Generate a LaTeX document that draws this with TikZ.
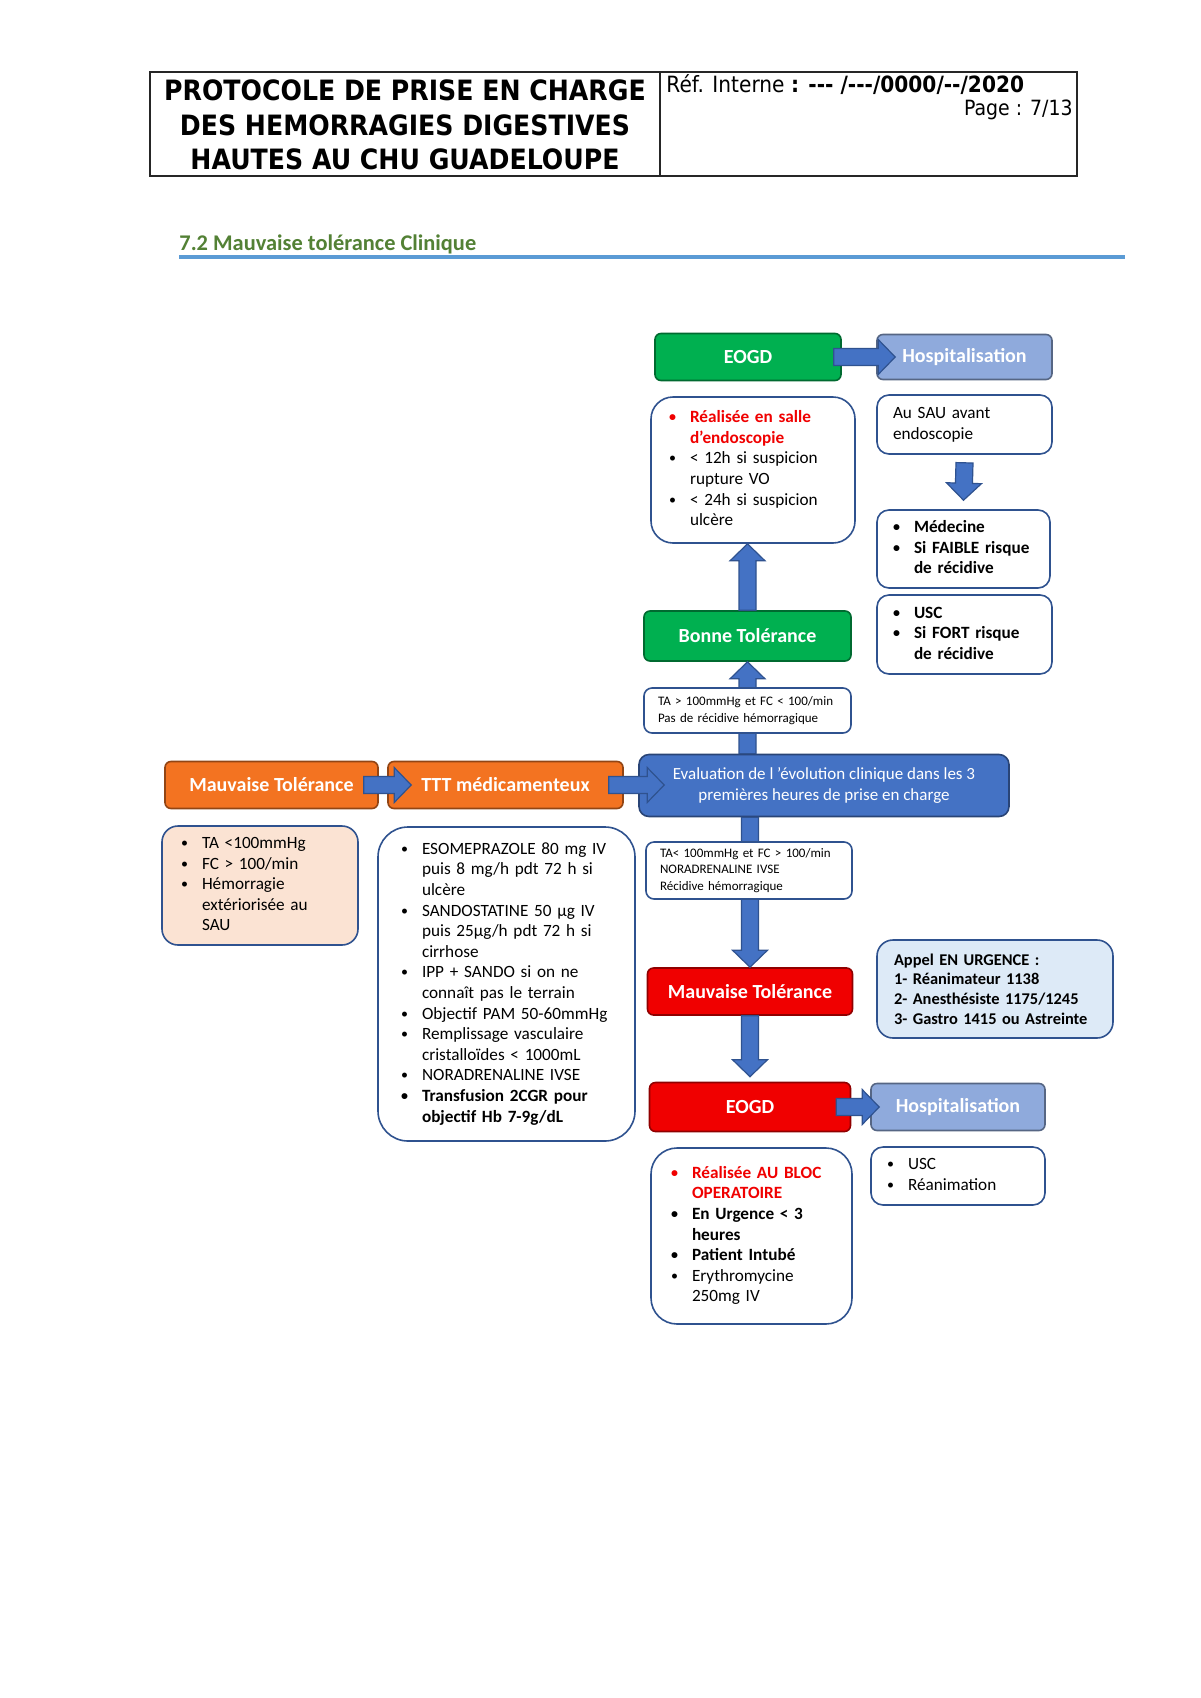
\documentclass[tikz,border=0pt]{standalone}
\usepackage{fontspec}
\setmainfont{Carlito}
\newfontfamily\entete{DejaVu Sans}[FakeStretch=0.9,Ligatures=TeXOff]
\usetikzlibrary{calc}
\definecolor{vert}{HTML}{00B050}
\definecolor{vertfonce}{HTML}{538135}
\definecolor{orangevif}{HTML}{F37321}
\definecolor{rougevif}{HTML}{F00000}
\definecolor{bleu}{HTML}{4472C4}
\definecolor{bordbleu}{HTML}{2F528F}
\definecolor{hospi}{HTML}{8FAADC}
\definecolor{peche}{HTML}{FBE3D3}
\definecolor{bleuclair}{HTML}{DDEAF7}
\definecolor{filet}{HTML}{5B9BD5}
\newcommand{\puce}{\raisebox{0.5pt}{\fontsize{7}{7}\selectfont •}}
\newcommand{\enrouge}[1]{\textcolor{rougevif}{\textbf{#1}}}
\tikzset{
  etiquette/.style={draw=#1!60!black, fill=#1, line width=0.8pt, rounded corners=3pt,
    text=white, font=\bfseries\fontsize{10}{12}\selectfont, inner sep=0pt},
  cadre/.style={draw=bordbleu, fill=white, line width=0.8pt, rounded corners=#1,
    align=left, inner ysep=0pt},
  liste/.style={font=\fontsize{8.6}{10.3}\selectfont},
  petit/.style={font=\fontsize{6.5}{8.1}\selectfont},
  fleche/.style={draw=bordbleu, fill=bleu, line width=0.6pt,
    to path={let \p1=(\tikztostart), \p2=(\tikztotarget),
      \n1={atan2(\y2-\y1,\x2-\x1)} in
      ($(\p1)+(\n1+90:4.25pt)$)
      -- ($(\p2)+(\n1+180:8.5pt)+(\n1+90:4.25pt)$)
      -- ($(\p2)+(\n1+180:8.5pt)+(\n1+90:8.75pt)$)
      -- (\p2)
      -- ($(\p2)+(\n1+180:8.5pt)+(\n1-90:8.75pt)$)
      -- ($(\p2)+(\n1+180:8.5pt)+(\n1-90:4.25pt)$)
      -- ($(\p1)+(\n1-90:4.25pt)$) -- cycle}}
}
\begin{document}
\begin{tikzpicture}[x=0.5pt,y=-0.5pt]
\useasboundingbox (0,0) rectangle (1200,1698);
\fill[white] (0,0) rectangle (1200,1698);
\draw[line width=0.7pt, black!85] (150,72) rectangle (1077,176) (660,72) -- (660,176);
\node[font=\entete\bfseries\fontsize{14}{17.25}\selectfont, align=center] (titre) at (405,125)
  {PROTOCOLE DE PRISE EN CHARGE\\DES HEMORRAGIES DIGESTIVES\\HAUTES AU CHU GUADELOUPE};
\node[font=\entete\fontsize{11.2}{13}\selectfont, anchor=west, inner sep=0pt] (ref) at (666,85)
  {Réf. Interne \textbf{: --- /---/0000/--/2020}};
\node[font=\entete\fontsize{10.5}{12}\selectfont, anchor=east, inner sep=0pt] (page) at (1073,110) {Page : 7/13};
\node[font=\bfseries\fontsize{11.2}{13}\selectfont, text=vertfonce, anchor=west, inner sep=0pt] (section) at (179,244)
  {7.2 Mauvaise tolérance Clinique};
\draw[line width=1.6pt, filet] (179,257) -- (1125,257);

\node[etiquette=vert, minimum width=93pt, minimum height=23.5pt] (eogdA) at (748,357) {EOGD};
\node[etiquette=hospi, minimum width=87.5pt, minimum height=22.5pt] (hospA) at (964.5,357) {Hospitalisation};
\draw[fleche] ([xshift=-4pt]eogdA.east) to ([xshift=9.5pt]hospA.west);

\node[cadre=11pt, liste, minimum width=102pt, minimum height=73pt, inner xsep=9pt, text width=84pt] (realA) at (753,470)
  {\begin{tabular}{@{}p{10.5pt}@{}l@{}}
   \enrouge{\puce} & \enrouge{Réalisée en salle}\\
   & \enrouge{d’endoscopie}\\
   \puce & < 12h si suspicion\\
   & rupture VO\\
   \puce & < 24h si suspicion\\
   & ulcère
   \end{tabular}};
\node[cadre=6pt, liste, minimum width=87.5pt, minimum height=29.5pt, inner xsep=8pt, text width=71.5pt] (sauA) at (964.5,424.5)
  {Au SAU avant\\endoscopie};
\node[cadre=6pt, liste, minimum width=86.5pt, minimum height=39pt, inner xsep=8pt, text width=70.5pt] (medA) at (963.5,549)
  {\bfseries\begin{tabular}{@{}p{10.5pt}@{}l@{}}
   \puce & Médecine\\
   \puce & Si FAIBLE risque\\
   & de récidive
   \end{tabular}};
\node[cadre=6pt, liste, minimum width=87.5pt, minimum height=39.5pt, inner xsep=8pt, text width=71.5pt] (uscA) at (964.5,634.5)
  {\bfseries\begin{tabular}{@{}p{10.5pt}@{}l@{}}
   \puce & USC\\
   \puce & Si FORT risque\\
   & de récidive
   \end{tabular}};
\draw[fleche] ([yshift=-4pt]sauA.south) to ([yshift=4.5pt]medA.north);

\node[etiquette=vert, minimum width=103.5pt, minimum height=25pt] (bonne) at (747.5,636) {Bonne Tolérance};
\draw[fleche] (bonne.north) to (bonne.north |- realA.south);

\node[etiquette=bleu, font=\fontsize{8.5}{10.3}\selectfont, align=center, minimum width=185pt, minimum height=31pt,
  rounded corners=5pt] (evalN) at (824,785.5)
  {Evaluation de l ’évolution clinique dans les 3\\premières heures de prise en charge};
\draw[fleche] (evalN.north -| bonne.south) to (bonne.south);
\node[cadre=4pt, petit, minimum width=103.5pt, minimum height=22.5pt, inner xsep=7pt, text width=89.5pt] (condA) at (747.5,710.5)
  {TA > 100mmHg et FC < 100/min\\Pas de récidive hémorragique};

\node[etiquette=orangevif, minimum width=106.5pt, minimum height=23.5pt] (mauvO) at (271.5,785) {Mauvaise Tolérance};
\node[etiquette=orangevif, minimum width=117.5pt, minimum height=23.5pt] (ttt) at (505.5,785) {TTT médicamenteux};
\draw[fleche] ([xshift=-7.5pt]mauvO.east) to ([xshift=12pt]ttt.west);
\draw[fleche] ([xshift=-7.5pt]ttt.east) to ([xshift=13pt]ttt.east -| evalN.west);

\node[cadre=8pt, fill=peche, liste, minimum width=98pt, minimum height=59.5pt, inner xsep=9.5pt, text width=79pt] (signes) at (260,885.5)
  {\begin{tabular}{@{}p{10.5pt}@{}l@{}}
   \puce & TA <100mmHg\\
   \puce & FC > 100/min\\
   \puce & Hémorragie\\
   & extériorisée au\\
   & SAU
   \end{tabular}};
\node[cadre=15pt, liste, minimum width=128.5pt, minimum height=157pt, inner xsep=11.5pt, text width=105.5pt] (trait) at (506.5,984)
  {\begin{tabular}{@{}p{10.5pt}@{}l@{}}
   \puce & ESOMEPRAZOLE 80 mg IV\\
   & puis 8 mg/h pdt 72 h si\\
   & ulcère\\
   \puce & SANDOSTATINE 50 µg IV\\
   & puis 25µg/h pdt 72 h si\\
   & cirrhose\\
   \puce & IPP + SANDO si on ne\\
   & connaît pas le terrain\\
   \puce & Objectif PAM 50-60mmHg\\
   \puce & Remplissage vasculaire\\
   & cristalloïdes < 1000mL\\
   \puce & NORADRENALINE IVSE\\
   \textbf{\puce} & \textbf{Transfusion 2CGR pour}\\
   & \textbf{objectif Hb 7-9g/dL}
   \end{tabular}};

\node[etiquette=rougevif, minimum width=102.5pt, minimum height=23.5pt] (mauvR) at (750,991.5) {Mauvaise Tolérance};
\draw[fleche] (evalN.south -| mauvR.north) to (mauvR.north);
\node[cadre=4pt, petit, minimum width=103pt, minimum height=28.5pt, inner xsep=7pt, text width=89pt] (condB) at (749,870.5)
  {TA< 100mmHg et FC > 100/min\\NORADRENALINE IVSE\\Récidive hémorragique};
\node[cadre=8pt, fill=bleuclair, font=\bfseries\fontsize{8.2}{9.8}\selectfont, minimum width=118pt, minimum height=49pt,
  inner xsep=8.5pt, text width=101pt] (appel) at (995,989)
  {Appel EN URGENCE :\\1- Réanimateur 1138\\2- Anesthésiste 1175/1245\\3- Gastro 1415 ou Astreinte};

\node[etiquette=rougevif, minimum width=100.5pt, minimum height=24.5pt] (eogdB) at (750,1107) {EOGD};
\node[etiquette=hospi, minimum width=87pt, minimum height=23.5pt] (hospB) at (958,1107) {Hospitalisation};
\draw[fleche] (mauvR.south) to ([yshift=2.5pt]eogdB.north);
\draw[fleche] ([xshift=-7.5pt]eogdB.east) to ([xshift=4.5pt]hospB.west);

\node[cadre=13pt, liste, minimum width=100.5pt, minimum height=88pt, inner xsep=10pt, text width=80.5pt] (realB) at (751.5,1236)
  {\begin{tabular}{@{}p{10.5pt}@{}l@{}}
   \enrouge{\puce} & \enrouge{Réalisée AU BLOC}\\
   & \enrouge{OPERATOIRE}\\
   \textbf{\puce} & \textbf{En Urgence < 3}\\
   & \textbf{heures}\\
   \textbf{\puce} & \textbf{Patient Intubé}\\
   \puce & Erythromycine\\
   & 250mg IV
   \end{tabular}};
\node[cadre=6pt, liste, minimum width=87pt, minimum height=29pt, inner xsep=8pt, text width=71pt] (uscB) at (958,1176)
  {\begin{tabular}{@{}p{10.5pt}@{}l@{}}
   \puce & USC\\
   \puce & Réanimation
   \end{tabular}};
\end{tikzpicture}
\end{document}
